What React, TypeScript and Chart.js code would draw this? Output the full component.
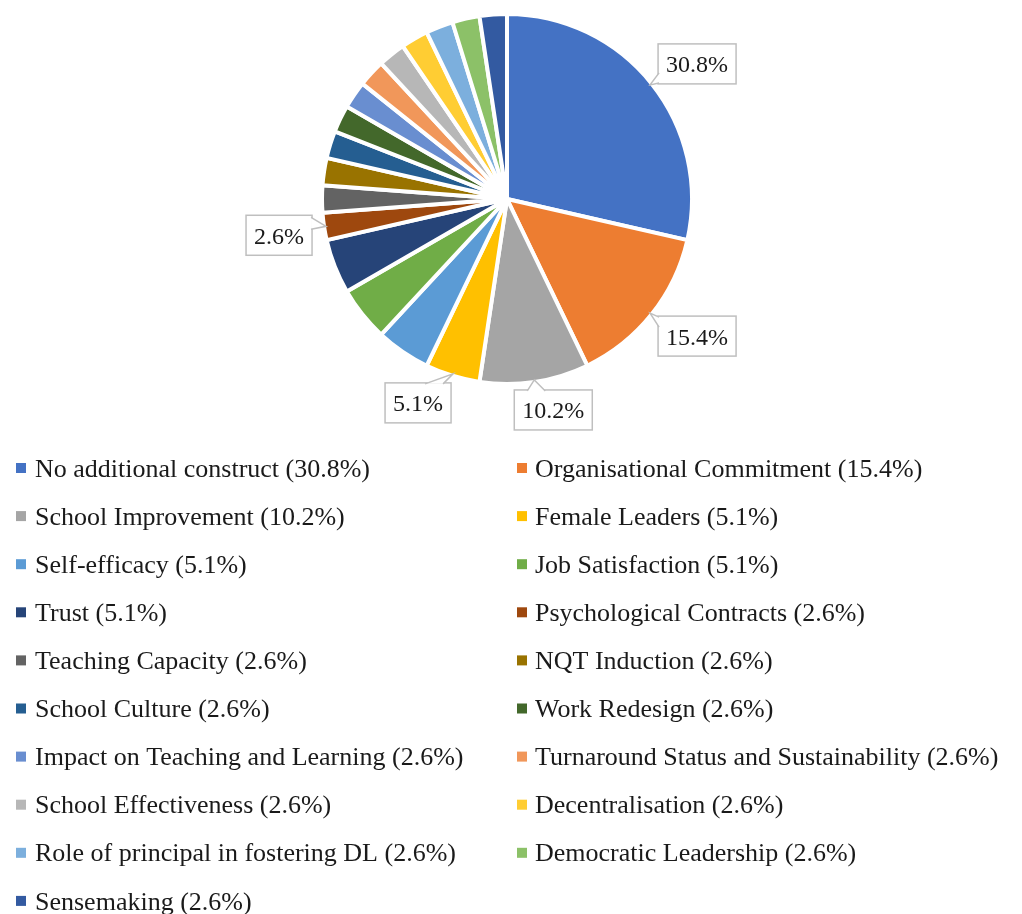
import React, { useEffect, useRef } from "react";
import { Chart, registerables } from "chart.js";

Chart.register(...registerables);

const categories = [
  "No additional construct",
  "Organisational Commitment",
  "School Improvement",
  "Female Leaders",
  "Self-efficacy",
  "Job Satisfaction",
  "Trust",
  "Psychological Contracts",
  "Teaching Capacity",
  "NQT Induction",
  "School Culture",
  "Work Redesign",
  "Impact on Teaching and Learning",
  "Turnaround Status and Sustainability",
  "School Effectiveness",
  "Decentralisation",
  "Role of principal in fostering DL",
  "Democratic Leadership",
  "Sensemaking",
];

const studyCounts = [12, 6, 4, 2, 2, 2, 2, 1, 1, 1, 1, 1, 1, 1, 1, 1, 1, 1, 1];

const percentLabels = [
  "30.8%", "15.4%", "10.2%", "5.1%", "5.1%", "5.1%", "5.1%", "2.6%", "2.6%", "2.6%",
  "2.6%", "2.6%", "2.6%", "2.6%", "2.6%", "2.6%", "2.6%", "2.6%", "2.6%",
];

const sliceColors = [
  "#4472C4", "#ED7D31", "#A5A5A5", "#FFC000", "#5B9BD5", "#70AD47", "#264478",
  "#9E480E", "#636363", "#997300", "#255E91", "#43682B", "#698ED0", "#F1975A",
  "#B7B7B7", "#FFCD33", "#7CAFDD", "#8CC168", "#335AA1",
];

const calloutIndices = [0, 1, 2, 3, 7];

// layout of callout boxes relative to their anchor point (style only)
const calloutLayout: Record<number, { edge: "left" | "right"; bx: number; by: number; side: string; b0: number; b1: number }> = {
  0: { edge: "left", bx: 8, by: -41, side: "left", b0: 29, b1: 39 },
  1: { edge: "left", bx: 8, by: 3, side: "left", b0: 1, b1: 11 },
  2: { edge: "left", bx: -20, by: 10, side: "top", b0: 13, b1: 31 },
  3: { edge: "right", bx: -2, by: 9, side: "topR", b0: 26, b1: 8 },
  7: { edge: "right", bx: -14, by: -11, side: "right", b0: 2, b1: 14 },
};

const SERIF = "'Liberation Serif', 'Times New Roman', serif";

const overlayPlugin = {
  id: "overlay",
  afterDraw(chart: any) {
    const ctx = chart.ctx as CanvasRenderingContext2D;
    const meta = chart.getDatasetMeta(0);
    ctx.save();
    // callouts
    ctx.font = `24px ${SERIF}`;
    for (const i of calloutIndices) {
      const arc = meta.data[i];
      const p = arc.getProps(["x", "y", "startAngle", "endAngle", "outerRadius"], true);
      const mid = (p.startAngle + p.endAngle) / 2;
      const tx = p.x + Math.cos(mid) * (p.outerRadius - 2);
      const ty = p.y + Math.sin(mid) * (p.outerRadius - 2);
      const text = percentLabels[i];
      const w = Math.round(ctx.measureText(text).width + 16);
      const h = 40;
      const L = calloutLayout[i];
      const left = L.edge === "left" ? tx + L.bx : tx + L.bx - w;
      const top = ty + L.by;
      ctx.fillStyle = "#ffffff";
      ctx.strokeStyle = "#BFBFBF";
      ctx.lineWidth = 1.5;
      ctx.fillRect(left, top, w, h);
      ctx.strokeRect(left, top, w, h);
      // tail
      let a: [number, number], b: [number, number];
      if (L.side === "left") {
        a = [left + 1, top + L.b0];
        b = [left + 1, top + L.b1];
      } else if (L.side === "right") {
        a = [left + w - 1, top + L.b0];
        b = [left + w - 1, top + L.b1];
      } else if (L.side === "top") {
        a = [left + L.b0, top + 1];
        b = [left + L.b1, top + 1];
      } else {
        a = [left + w - L.b0, top + 1];
        b = [left + w - L.b1, top + 1];
      }
      ctx.beginPath();
      ctx.moveTo(a[0], a[1]);
      ctx.lineTo(tx, ty);
      ctx.lineTo(b[0], b[1]);
      ctx.closePath();
      ctx.fill();
      ctx.beginPath();
      ctx.moveTo(a[0], a[1]);
      ctx.lineTo(tx, ty);
      ctx.lineTo(b[0], b[1]);
      ctx.stroke();
      ctx.fillStyle = "#1a1a1a";
      ctx.textAlign = "center";
      ctx.textBaseline = "alphabetic";
      ctx.fillText(text, left + w / 2, top + h / 2 + 8.5);
    }
    // legend
    ctx.font = `26px ${SERIF}`;
    ctx.textAlign = "left";
    ctx.textBaseline = "alphabetic";
    const colMarkX = [16, 517];
    const colTextX = [35, 535];
    categories.forEach((name, k) => {
      const row = Math.floor(k / 2);
      const col = k % 2;
      const cy = 468 + 48.1 * row;
      ctx.fillStyle = sliceColors[k];
      ctx.fillRect(colMarkX[col], cy - 5, 10, 10);
      ctx.fillStyle = "#1a1a1a";
      ctx.fillText(`${name} (${percentLabels[k]})`, colTextX[col], cy + 8.6);
    });
    ctx.restore();
  },
};

export default function App() {
  const ref = useRef<HTMLCanvasElement | null>(null);
  useEffect(() => {
    document.body.style.margin = "0";
    const canvas = ref.current!;
    const chart = new Chart(canvas, {
      type: "pie",
      data: {
        labels: categories,
        datasets: [
          {
            data: studyCounts,
            backgroundColor: sliceColors,
            borderColor: "#ffffff",
            borderWidth: 4,
          },
        ],
      },
      options: {
        responsive: false,
        animation: false,
        devicePixelRatio: 1,
        radius: 185,
        layout: { padding: { left: 100, right: 108, top: 10, bottom: 526 } },
        plugins: {
          legend: { display: false },
          tooltip: { enabled: false },
        },
      } as any,
      plugins: [overlayPlugin],
    });
    return () => chart.destroy();
  }, []);
  return (
    <div style={{ width: 1022, height: 914, position: "relative", background: "#fff" }}>
      <canvas ref={ref} width={1022} height={914} style={{ display: "block" }} />
    </div>
  );
}
